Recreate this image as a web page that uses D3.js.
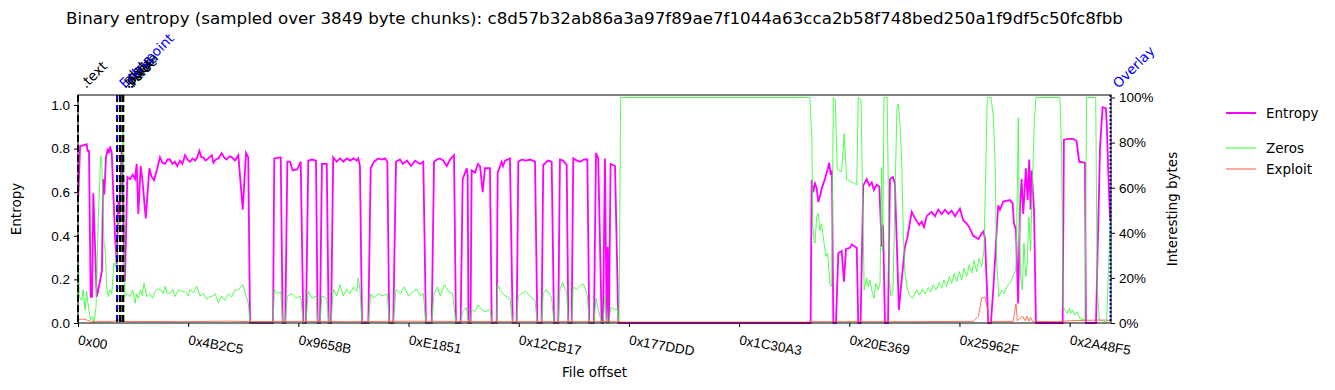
<!DOCTYPE html>
<html>
<head>
<meta charset="utf-8">
<script src="https://cdn.jsdelivr.net/npm/d3@7"></script>
<style>
  body { margin: 0; background: #fff; }
  svg { display: block; font-family: "DejaVu Sans", sans-serif; }
  .axis text { font-size: 13.5px; fill: #000; }
  .axis path, .axis line { stroke: #000; }
</style>
</head>
<body>
<div id="chart"></div>
<script>
// Valeurs : [index du bloc, valeur]
const chunkSize = 3849;
const chunkCount = 750;
const sha = 'c8d57b32ab86a3a97f89ae7f1044a63cca2b58f748bed250a1f9df5c50fc8fbb';

const tickLabels = ['0x00', '0x4B2C5', '0x9658B', '0xE1851', '0x12CB17', '0x177DDD',
  '0x1C30A3', '0x20E369', '0x25962F', '0x2A48F5'];

// entropie (axe gauche)
const entropy = [
  [0.2,.58],[1.5,.81],[6.3,.82],[7.0,.79],[8.0,.79],[9.2,.12],[10.2,.12],[11.1,.595],[13.6,.12],[14.7,.15],
  [16.5,.21],[17.4,.24],[18.2,.66],[19.1,.59],[20.3,.76],[21.6,.80],[22.5,.78],[23.4,.81],[24.5,.78],[26.9,.40],
  [28.1,.27],[29.3,.56],[30.0,.50],[31.7,.79],[34.1,.19],[35.8,.67],[37.8,.66],[39.7,.68],[41.4,.66],[42.6,.73],
  [43.8,.50],[45.5,.72],[46.7,.66],[49.2,.48],[51.8,.71],[53.5,.67],[55.2,.655],[57.6,.71],[59.5,.76],[61.3,.735],
  [63.2,.73],[65,.75],[66.8,.75],[68.5,.73],[70.3,.74],[72.1,.72],[74,.745],[75.8,.73],[77.7,.77],[79.5,.75],
  [81.3,.74],[83.2,.755],[85.0,.745],[86.6,.76],[88.1,.79],[89.6,.76],[91.0,.76],[92.5,.745],[93.7,.75],[95.4,.76],
  [97.1,.77],[98.3,.735],[100,.75],[102,.755],[104.3,.78],[106,.76],[108.0,.75],[110,.765],[111.8,.76],[114,.745],
  [116.4,.77],[119.6,.52],[122.0,.78],[123.6,.76],[124.9,0],
  [141.6,0],[142.5,.755],[147.2,.76],[148.6,0],[150.5,0],[152.0,.74],[153.9,.74],[155.9,.70],[159.2,.705],[161.7,.74],
  [163.6,0],[165.5,0],[167.2,.745],[169.9,.75],[172.8,.745],[174.0,0],[175.7,0],[177.1,.73],[180.6,.73],[182.0,0],
  [183.7,0],[185.3,.76],[187.8,.74],[190.2,.755],[192.6,.74],[195.1,.755],[197.5,.745],[199.9,.755],[202.3,.745],[203.5,.755],
  [204.7,.72],[206.2,0],[210.8,0],[212.5,.71],[214.9,.74],[218.0,.755],[220.7,.75],[222.9,.755],[224.6,.74],[226.0,0],
  [228.9,0],[230.9,.74],[233.8,.75],[235.9,.73],[238.9,.745],[241.8,.72],[244.7,.745],[248.3,.73],[250.7,.74],[252.6,0],
  [256.8,0],[258.5,.74],[260.6,.75],[262.8,.755],[265.2,.745],[267.7,.72],[270.1,.75],[273.0,.77],[274.4,0],[277.8,0],
  [279.3,.66],[282.2,.71],[282.9,.68],[283.5,0],[285.0,0],[285.8,.70],[288.2,.69],[290.4,.73],[291.9,.72],[293.8,.60],
  [295.5,.71],[299.1,.71],[300.4,0],[304.0,0],[304.7,.69],[307.6,.74],[308.6,.72],[310.0,.745],[313.6,.755],[315.6,0],
  [318.5,0],[319.7,.74],[322.3,.75],[325.2,.745],[328.2,.75],[331.8,.74],[333.5,0],[336.6,0],[337.8,.725],[341.2,.745],
  [343.9,.74],[345.6,0],[348.7,0],[349.9,.75],[352.1,.745],[354.8,.725],[356.0,0],[358.4,0],[359.6,.755],[362.3,.745],
  [364.5,.74],[367.4,.75],[369.8,.75],[371.2,0],[374.6,0],[376.1,.78],[377.7,.755],[380.2,0],[381.2,0],[382.6,.755],
  [383.8,0],[384.6,.35],[385.5,0],[386.7,.73],[389.9,.72],[392.3,0],
  [531.9,0],[532.7,.656],[533.8,.60],[535.1,.64],[536.3,.62],[537.5,.555],[538.7,.58],[540.1,.62],[542.3,.66],[544.0,.70],
  [545.4,.735],[546.5,.68],[547.4,.70],[548.4,0],[550.3,0],[552.0,.32],[554.5,.33],[556.1,.19],[557.6,.34],[560.5,.345],
  [561.7,.36],[565.4,.345],[566.5,0],[568.2,0],[570.1,.63],[572.6,.66],[574.5,.63],[576.3,.645],[577.9,.61],[579.9,.635],
  [581.8,.625],[583.5,.35],[584.5,.45],[585.9,0],[588.1,0],[589.5,.66],[591.7,.67],[593.1,.64],[596.0,.06],[597.3,.15],
  [600.4,.35],[602.1,.39],[605.3,.51],[607.7,.48],[610.8,.45],[612.6,.465],[614.2,.44],[616.2,.49],[619.8,.51],[622.2,.49],
  [624.6,.52],[627.1,.50],[629.5,.52],[631.9,.50],[634.3,.515],[636.7,.49],[640.3,.525],[642.7,.47],[644.7,.46],[647.1,.44],
  [650.0,.40],[653.7,.385],[656.1,.41],[657.3,.42],[658.5,.39],[660.9,0],[662.8,0],[664.5,.15],[668.1,.54],[669.4,.52],
  [671.8,.557],[676.6,.564],[678.6,.55],[679.5,.457],[681.0,.427],[682.6,.09],[683.9,.53],[685.1,.66],[686.3,.50],[688.2,.71],
  [689.5,.565],[690.6,.75],[691.6,.52],[692.4,.70],[694.1,.52],[695.5,0],[714.9,0],[715.8,.84],[718.7,.845],[722.6,.845],
  [725.0,.835],[726.9,.74],[731.1,.735],[731.8,0],[739.1,0],[742.0,.8],[743.9,.99],[746.3,.985],[747.0,.9],[748.0,.70],
  [749.4,.47]
];

// part d'octets nuls (axe droit)
const zeros = [
  [0,.41],[0.9,.117],[2.7,.10],[3.8,.147],[5.1,.058],[6.3,.14],[7.5,.073],[9.2,.013],[10.7,.028],[11.6,0],
  [13.1,.07],[14.7,.46],[16.5,.74],[17.2,.72],[18.9,.35],[19.8,.32],[20.8,.16],[22.0,.117],[23.2,.147],[24.5,.13],
  [26.1,.265],[27.4,.25],[28.5,.45],[30.5,.44],[32.9,.87],[34.1,.117],[35.8,.13],[37.8,.117],[39.7,.147],[41.4,.088],
  [42.6,.13],[43.8,.11],[45.5,.147],[46.7,.12],[47.9,.176],[49.9,.117],[52.3,.13],[54.2,.11],[55.9,.14],[57.6,.15],
  [59.5,.15],[61.9,.13],[63.2,.163],[64.8,.13],[66.8,.133],[68.8,.15],[70.4,.117],[72.8,.147],[75.3,.14],[77.7,.14],
  [80.1,.12],[81.3,.15],[83.7,.135],[86.2,.163],[88.6,.12],[91.0,.13],[93.4,.105],[95.8,.117],[98.2,.12],[99.5,.13],
  [101.9,.09],[104.3,.12],[106.7,.10],[109.1,.13],[111.6,.115],[114.0,.147],[116.4,.147],[119.6,.17],[122.0,.12],[123.6,.09],
  [124.9,0],[141.6,0],[142.5,.15],[145,.13],[147.2,.14],[148.6,0],[150.5,0],[152.0,.12],[155,.13],[158,.11],
  [161.7,.12],[163.6,0],[165.5,0],[167.2,.14],[169.9,.11],[172.8,.12],[174.0,0],[175.7,0],[177.1,.12],[180.6,.11],
  [182.0,0],[183.7,0],[185.3,.15],[187.8,.12],[190.2,.17],[192.6,.12],[195.1,.15],[197.5,.13],[200,.16],[202.3,.14],
  [203.5,.20],[204.7,.15],[206.2,0],[210.8,0],[212.5,.13],[215,.11],[218,.13],[221,.12],[224.6,.13],[226.0,0],
  [228.9,0],[230.9,.15],[234,.13],[237,.16],[240,.12],[243,.14],[246,.15],[248.5,.12],[250.7,.13],[252.6,0],
  [256.8,0],[258.5,.13],[261,.16],[263,.12],[266,.17],[269,.14],[272,.13],[274.4,0],[277.8,0],[279.3,.05],
  [282,.07],[283.5,0],[285.0,0],[285.8,.06],[288,.05],[290.5,.08],[293,.06],[295.5,.05],[299.1,.06],[300.4,0],
  [304.0,0],[304.7,.17],[307,.14],[310,.12],[313.6,.11],[315.6,0],[318.5,0],[319.7,.12],[322,.13],[325,.14],
  [328,.12],[331.8,.10],[333.5,0],[336.6,0],[337.8,.13],[340,.15],[343.9,.11],[345.6,0],[348.7,0],[349.9,.15],
  [352,.18],[354.8,.13],[356.0,0],[358.4,0],[359.6,.16],[362,.15],[365,.17],[367.4,.17],[369.8,.12],[371.2,0],
  [374.6,0],[376.1,.11],[377.7,.06],[380.2,0],[381.2,0],[382.6,.12],[383.8,0],[385.5,0],[386.7,.07],[389.9,.06],
  [391.5,.06],[392.8,0],[394.0,1],[531.4,1],[532.9,.80],[533.4,.44],[534.3,.37],[535.1,.354],[536.3,.47],[537.5,.487],
  [538.7,.41],[539.9,.44],[541.1,.38],[543.0,.295],[544.3,.31],[545.9,.176],[547.2,.16],[548.4,1],[549.8,.99],[551.3,.68],
  [554.5,.67],[556.3,.84],[558.1,.636],[565.4,.613],[566.5,1],[568.5,.99],[570.8,.147],[572.6,.20],[573.7,.16],[575.0,.19],
  [576.2,.147],[577.9,.11],[579.3,.176],[581.0,.147],[582.3,.176],[583.5,.69],[584.2,.32],[585.2,1],[587.5,1],[589.1,.2],
  [590.2,.12],[591.7,.14],[593.1,.55],[594.6,.95],[595.6,.97],[596.8,.88],[598.0,.72],[599.2,.40],[600.4,.22],[602.1,.15],
  [604.0,.12],[606.0,.11],[608.9,.147],[610.8,.124],[613.3,.15],[614.9,.129],[617.3,.158],[619.1,.138],[621.0,.169],[622.9,.147],
  [625.3,.179],[627.1,.154],[628.7,.191],[630.7,.161],[632.6,.206],[634.3,.176],[636.2,.221],[638.0,.184],[639.9,.228],[641.6,.191],
  [643.3,.243],[645.2,.206],[647.1,.258],[648.9,.221],[650.5,.277],[652.5,.228],[654.2,.287],[656.1,.25],[657.8,.324],[660.2,1],
  [662.8,1],[664.5,.92],[665.7,.74],[667.0,.265],[668.6,.117],[670.6,.147],[672.3,.13],[674.2,.16],[676.1,.176],[677.9,.19],
  [679.1,.21],[680.3,.228],[681.0,.25],[682.0,.59],[682.7,.91],[683.4,.44],[684.4,.206],[685.6,.147],[686.8,.354],[688.1,.206],
  [689.2,.265],[690.4,.47],[691.6,.32],[692.8,.59],[694.3,.89],[695.5,1],[712.9,1],[714.2,.74],[715.3,.07],[716.6,.058],
  [718.2,.043],[719.7,.065],[720.9,.043],[722.2,.058],[723.8,.036],[725.5,.05],[727.5,.02],[731.1,.013],[732.3,1],[738.9,1],
  [740.0,.15],[741.5,.013],[746.8,.006],[748.5,.29],[749.7,.5]
];

// octets "exploit" (axe droit)
const exploit = [
  [0,.014],[3,.018],[6,.014],[9,.008],[14,.007],[25,.007],[30,.014],[33,.007],[80,.006],[110,.008],
  [125,.006],[160,.007],[200,.006],[240,.008],[300,.006],[392,.006],[394,.004],[531,.004],[533,.006],[600,.006],
  [650,.007],[653.7,.03],[656.1,.11],[658.5,.115],[660.2,.07],[661,.004],[663,.004],[665,.007],[679,.007],[681,.085],
  [682,.01],[686,.03],[687.5,.01],[689,.03],[690.5,.008],[691.5,.025],[693,.007],[712,.006],[720,.01],[740,.013],
  [746,.013],[750,.01]
];

// marqueurs verticaux (sections, point d'entrée, overlay)
const markerNames = ['.text', '.rdata', '.data', '.pdata', '.rsrc', '.reloc', 'Entrypoint', 'Overlay'];
const markerChunks = [0, 28.4, 30.5, 30.9, 32.6, 32.9, 28.4, 749.6];
const markerColors = ['#000', '#000', '#000', '#000', '#000', '#000', '#0000ff', '#0000ff'];
const markerDash = ['7,3', '7,3', '7,3', '7,3', '7,3', '7,3', '4,6', '2,2'];

const leftTicks = [0, 0.2, 0.4, 0.6, 0.8, 1.0];
const rightTicks = [0, 0.2, 0.4, 0.6, 0.8, 1.0];

// ---- dessin ----
const W = 1335, H = 390;
const m = { left: 78, right: 1111, top: 95, bottom: 323 };

const svg = d3.select('#chart').append('svg').attr('width', W).attr('height', H);

const x = d3.scaleLinear().domain([0, chunkCount * chunkSize]).range([m.left, m.right]);
const yL = d3.scaleLinear().domain([0, 1.046]).range([m.bottom, m.top]);
const yR = d3.scaleLinear().domain([0, 1.011]).range([m.bottom, m.top]);

svg.append('clipPath').attr('id', 'plot')
  .append('rect').attr('x', m.left).attr('y', m.top - 1)
  .attr('width', m.right - m.left).attr('height', m.bottom - m.top + 2);

const plot = svg.append('g').attr('clip-path', 'url(#plot)');

const lineL = d3.line().x(d => x(d[0] * chunkSize)).y(d => yL(d[1]));
const lineR = d3.line().x(d => x(d[0] * chunkSize)).y(d => yR(d[1]));

plot.append('path').datum(entropy).attr('d', lineL)
  .attr('fill', 'none').attr('stroke', '#ff00ff').attr('stroke-width', 1.8);

plot.append('path').datum(zeros).attr('d', lineR)
  .attr('fill', 'none').attr('stroke', '#33ff33').attr('stroke-opacity', 0.85).attr('stroke-width', 1);

plot.append('path').datum(exploit).attr('d', lineR)
  .attr('fill', 'none').attr('stroke', '#ff5a36').attr('stroke-opacity', 0.85).attr('stroke-width', 1);

// lignes verticales
markerNames.forEach((name, i) => {
  const mx = x(markerChunks[i] * chunkSize);
  svg.append('line')
    .attr('x1', mx).attr('x2', mx).attr('y1', m.top).attr('y2', m.bottom)
    .attr('stroke', markerColors[i]).attr('stroke-width', 2)
    .attr('stroke-dasharray', markerDash[i]);
});
markerNames.forEach((name, i) => {
  const mx = x(markerChunks[i] * chunkSize);
  svg.append('text')
    .attr('transform', `translate(${mx + 8},${m.top - 6}) rotate(-45)`)
    .attr('font-size', '13.5px')
    .attr('fill', markerColors[i])
    .text(name);
});

// cadre
svg.append('rect').attr('x', m.left).attr('y', m.top)
  .attr('width', m.right - m.left).attr('height', m.bottom - m.top)
  .attr('fill', 'none').attr('stroke', '#000').attr('stroke-width', 1);

// axes
const tickOffsets = tickLabels.map(t => parseInt(t, 16));
const xAxis = svg.append('g').attr('class', 'axis')
  .attr('transform', `translate(0,${m.bottom})`)
  .call(d3.axisBottom(x).tickValues(tickOffsets).tickFormat((d, i) => tickLabels[i]).tickSize(4).tickSizeOuter(0));
xAxis.select('.domain').remove();
xAxis.selectAll('text')
  .attr('text-anchor', 'start')
  .attr('transform', 'translate(2,5) rotate(10)');

const yAxisL = svg.append('g').attr('class', 'axis')
  .attr('transform', `translate(${m.left},0)`)
  .call(d3.axisLeft(yL).tickValues(leftTicks).tickFormat(d3.format('.1f')).tickSize(4).tickPadding(4));
yAxisL.select('.domain').remove();

const yAxisR = svg.append('g').attr('class', 'axis')
  .attr('transform', `translate(${m.right},0)`)
  .call(d3.axisRight(yR).tickValues(rightTicks).tickFormat(d => Math.round(d * 100) + '%').tickSize(4).tickPadding(4));
yAxisR.select('.domain').remove();

// titres
svg.append('text').attr('x', (m.left + m.right) / 2).attr('y', 24)
  .attr('text-anchor', 'middle').attr('font-size', '16.7px')
  .text(`Binary entropy (sampled over ${chunkSize} byte chunks): ${sha}`);

svg.append('text').attr('x', (m.left + m.right) / 2).attr('y', 377)
  .attr('text-anchor', 'middle').attr('font-size', '13.5px').text('File offset');

svg.append('text').attr('transform', `translate(21,${(m.top + m.bottom) / 2}) rotate(-90)`)
  .attr('text-anchor', 'middle').attr('font-size', '13.5px').text('Entropy');

svg.append('text').attr('transform', `translate(1177,${(m.top + m.bottom) / 2}) rotate(-90)`)
  .attr('text-anchor', 'middle').attr('font-size', '13.5px').text('Interesting bytes');

// légendes
const legendItems = [
  { name: 'Entropy', color: '#ff00ff', width: 2, y: 113 },
  { name: 'Zeros', color: '#33ff33', width: 1, y: 148 },
  { name: 'Exploit', color: '#ff5a36', width: 1, y: 169 }
];
legendItems.forEach(d => {
  svg.append('line').attr('x1', 1226).attr('x2', 1256).attr('y1', d.y).attr('y2', d.y)
    .attr('stroke', d.color).attr('stroke-width', d.width);
  svg.append('text').attr('x', 1266).attr('y', d.y + 5).attr('font-size', '13.5px').text(d.name);
});
</script>
</body>
</html>
